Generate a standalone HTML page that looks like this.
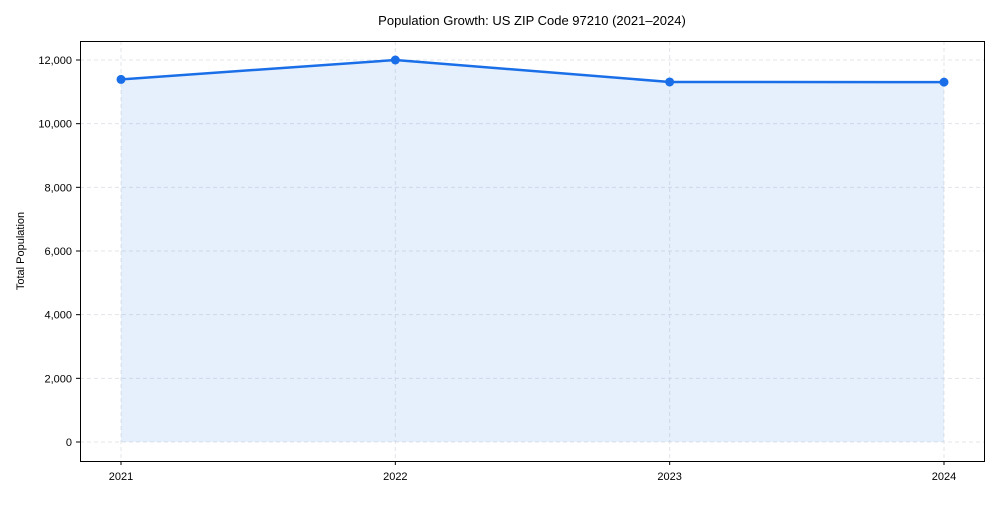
<!DOCTYPE html>
<html><head><meta charset="utf-8"><style>
body{margin:0;background:#fff;width:1000px;height:500px;overflow:hidden}
svg text{font-family:"Liberation Sans Narrow","Liberation Sans",Arial,sans-serif;fill:#000}
</style></head><body>
<svg id="chart" width="1000" height="500">
<text x="532" y="25" text-anchor="middle" font-size="13">Population Growth: US ZIP Code 97210 (2021–2024)</text>
<text transform="translate(24,251) rotate(-90)" text-anchor="middle" font-size="11">Total Population</text>
<g id="grid"></g><g id="area"></g><g id="line"></g><g id="ticks"></g>
<rect x="80.5" y="41.5" width="904" height="420" fill="none" stroke="#000" stroke-width="1"/>
</svg>
<script>
const years=["2021","2022","2023","2024"];
const population=[11390,12000,11310,11305];
const yTicks=[0,2000,4000,6000,8000,10000,12000];
const ns="http://www.w3.org/2000/svg";
const X0=121,X1=944,Y0=442,Y12=60;
const xs=i=>X0+(X1-X0)*i/(years.length-1);
const ys=v=>Y0-(Y0-Y12)*v/12000;
function mk(t,a,p){const e=document.createElementNS(ns,t);for(const k in a)e.setAttribute(k,a[k]);p.appendChild(e);return e;}
const grid=document.getElementById('grid'),ticks=document.getElementById('ticks');
yTicks.forEach(v=>{
 const l=mk('line',{x1:80,x2:985,y1:ys(v),y2:ys(v),stroke:'#e2e4ea',"stroke-dasharray":'4,3'},grid);
 
 
 mk('line',{x1:76,x2:80,y1:ys(v),y2:ys(v),stroke:'#000'},ticks);
 const t=mk('text',{x:72,y:ys(v)+4,"text-anchor":'end',"font-size":'11'},ticks);
 t.textContent=v.toLocaleString('en-US');
 
 
});
years.forEach((y,i)=>{
 const l=mk('line',{x1:xs(i),x2:xs(i),y1:41,y2:461,stroke:'#e2e4ea',"stroke-dasharray":'4,3'},grid);
 
 
 mk('line',{x1:xs(i),x2:xs(i),y1:461,y2:465,stroke:'#000'},ticks);
 const t=mk('text',{x:xs(i),y:480,"text-anchor":'middle',"font-size":'11'},ticks);
 t.textContent=y;
 
 
});
const pts=population.map((v,i)=>xs(i)+','+ys(v)).join(' ');
const area=mk('polygon',{points:xs(0)+','+Y0+' '+pts+' '+xs(years.length-1)+','+Y0,fill:'#1a73e8',"fill-opacity":'0.11'},document.getElementById('area'));


const line=mk('polyline',{points:pts,fill:'none',stroke:'#1a6fe8',"stroke-width":'2.5'},document.getElementById('line'));


population.forEach((v,i)=>{
 const c=mk('circle',{cx:xs(i),cy:ys(v),r:4.5,fill:'#1a6fe8'},document.getElementById('line'));
 
 
});
</script>
</body></html>
